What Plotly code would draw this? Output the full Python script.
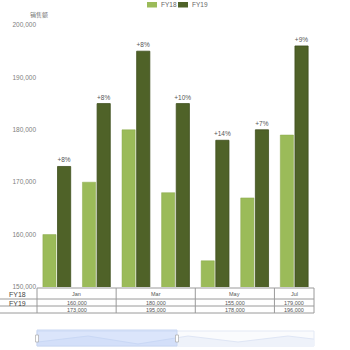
import plotly.graph_objects as go

# ---- data ----
months = ["Jan", "Feb", "Mar", "Apr", "May", "Jun", "Jul"]
fy18 = [160000, 170000, 180000, 168000, 155000, 167000, 179000]
fy19 = [173000, 185000, 195000, 185000, 178000, 180000, 196000]
growth_labels = ["+8%", "+8%", "+8%", "+10%", "+14%", "+7%", "+9%"]
y_ticks = [150000, 160000, 170000, 180000, 190000, 200000]
table_months = ["Jan", "Mar", "May", "Jul"]
table_month_idx = [0, 2, 4, 6]
table_spans = [(0, 1), (2, 3), (4, 5), (6, 6)]
nav_values = [5, 11, 3, 11, 5, 11, 5]
series_names = ["FY18", "FY19"]
series_colors = ["#9bbb59", "#4f6228"]

W = H = 350
def px(x):
    return x / W
def py(y):
    return (H - y) / H

fig = go.Figure()
fig.add_trace(go.Bar(name=series_names[0], x=months, y=fy18,
                     marker=dict(color=series_colors[0], line=dict(color="#8aa94c", width=0.5))))
fig.add_trace(go.Bar(name=series_names[1], x=months, y=fy19, text=growth_labels,
                     textposition="outside", cliponaxis=False, constraintext="none",
                     textfont=dict(size=6.5, color="#555555"),
                     marker=dict(color=series_colors[1], line=dict(color="#3f4f1e", width=0.8))))

# navigator area
fig.add_trace(go.Scatter(x=list(range(len(nav_values))), y=nav_values, xaxis="x2", yaxis="y2",
                         mode="lines", line=dict(color="#dfe6f5", width=1),
                         fill="tozeroy", fillcolor="#eef2fa", showlegend=False, hoverinfo="skip"))

x0p, x1p = 37, 314
fig.update_layout(
    width=W, height=H,
    margin=dict(l=0, r=0, t=0, b=0, autoexpand=False),
    plot_bgcolor="white", paper_bgcolor="white",
    barmode="group", bargap=0.26, bargroupgap=0.1,
    font=dict(family="Liberation Sans, Arial, sans-serif", color="#666666"),
    showlegend=False,
    xaxis=dict(domain=[px(x0p), px(x1p)], showticklabels=False, showgrid=False,
               zeroline=False, showline=False, ticks="", range=[-0.5, 6.5]),
    yaxis=dict(domain=[py(287), py(25)], range=[150000, 200000], tickvals=y_ticks,
               tickformat=",d", showgrid=False, zeroline=False, showline=False,
               tickfont=dict(size=6.5, color="#808080"), ticklen=0, ticks="", automargin=False),
    xaxis2=dict(domain=[px(x0p), px(x1p)], anchor="y2", range=[-0.02, 5.52],
                visible=False),
    yaxis2=dict(domain=[py(347), py(331)], anchor="x2", range=[0, 16], visible=False),
)

shapes = []
annos = []
line_col = "#9a9a9a"

def note(x, y, text, size, color, xanchor="center", family=None):
    f = dict(size=size, color=color)
    if family:
        f["family"] = family
    annos.append(dict(x=px(x), y=py(y), xref="paper", yref="paper", xanchor=xanchor,
                      yanchor="middle", text=text, showarrow=False, font=f))

# legend (drawn manually to match small swatches)
leg_x = [147, 178]
for name, col, lx in zip(series_names, series_colors, leg_x):
    shapes.append(dict(type="rect", xref="paper", yref="paper", x0=px(lx), x1=px(lx + 10),
                       y0=py(7.5), y1=py(2), line=dict(width=0), fillcolor=col))
    note(lx + 12, 5, name, 6.5, "#666666", xanchor="left")

# table geometry (pixels)
t_top, t_r1, t_r2, t_bot = 288, 299, 306, 313
cat_w = (x1p - x0p) / 7.0
def cx(i):
    return x0p + cat_w * i

shapes.append(dict(type="line", xref="paper", yref="paper", x0=px(x0p), x1=px(x1p),
                   y0=py(t_top), y1=py(t_top), line=dict(color=line_col, width=1)))
for yy in (t_r1, t_r2, t_bot):
    shapes.append(dict(type="line", xref="paper", yref="paper", x0=0, x1=px(x1p),
                       y0=py(yy), y1=py(yy), line=dict(color=line_col, width=1)))
vx = [x0p] + [cx(e + 1) for (_, e) in table_spans]
for v in vx:
    shapes.append(dict(type="line", xref="paper", yref="paper", x0=px(v), x1=px(v),
                       y0=py(t_top), y1=py(t_bot), line=dict(color=line_col, width=1)))
for m, idx, (s, e) in zip(table_months, table_month_idx, table_spans):
    c = (cx(s) + cx(e + 1)) / 2
    note(c, (t_top + t_r1) / 2 + 0.5, m, 5.5, "#555555")
    note(c, (t_r1 + t_r2) / 2 + 0.5, f"{fy18[idx]:,}", 5.5, "#555555")
    note(c, (t_r2 + t_bot) / 2 + 0.5, f"{fy19[idx]:,}", 5.5, "#555555")
note(7, (t_top + t_r1) / 2 + 0.5, series_names[0], 7, "#444444", xanchor="left")
note(7, (t_r1 + t_r2) / 2 + 0.5, series_names[1], 7, "#444444", xanchor="left")
note(28, 15, "销售额", 6, "#777777", xanchor="left", family="Noto Sans CJK SC")

# navigator background / selection
nav_top, nav_bot = 331, 346
shapes.append(dict(type="rect", xref="paper", yref="paper", x0=px(x0p), x1=px(x1p),
                   y0=py(nav_bot), y1=py(nav_top), line=dict(color="#e3e9f5", width=1),
                   fillcolor="rgba(245,247,252,0.5)", layer="below"))
sel_r = 177
shapes.append(dict(type="rect", xref="paper", yref="paper", x0=px(x0p), x1=px(sel_r),
                   y0=py(nav_bot), y1=py(nav_top - 1), line=dict(color="#c9d7f2", width=1),
                   fillcolor="rgba(160,190,245,0.35)", layer="above"))
for hx in (x0p, sel_r):
    shapes.append(dict(type="rect", xref="paper", yref="paper", x0=px(hx - 1.5), x1=px(hx + 1.5),
                       y0=py(342), y1=py(335), line=dict(color="#aaa", width=0.7),
                       fillcolor="white", layer="above"))

fig.update_layout(shapes=shapes, annotations=annos)
fig.write_html("out.html")
